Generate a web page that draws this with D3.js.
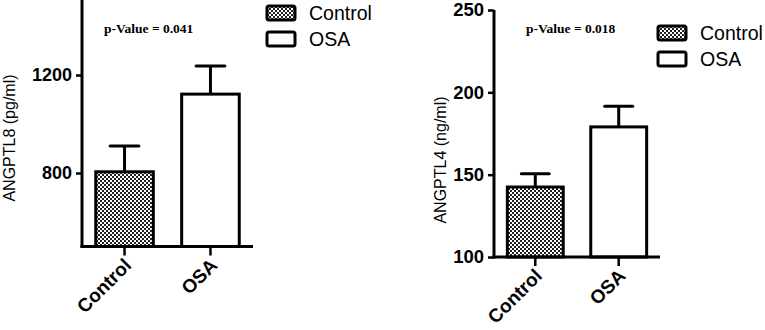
<!DOCTYPE html>
<html>
<head>
<meta charset="utf-8">
<script src="https://cdn.jsdelivr.net/npm/d3@7"></script>
<style>
  body { margin: 0; background: #fff; }
  svg { display: block; }
</style>
</head>
<body>
<div id="graphic"></div>
<script>
// groups shared by both panels
const groups = ['Control', 'OSA'];

// ANGPTL8 panel (pg/ml)
const angptl8Means = [805, 1122];
const angptl8Errors = [105, 115];
const angptl8Domain = [500, 1500];
const angptl8Ticks = [800, 1200];
const angptl8Label = 'ANGPTL8 (pg/ml)';
const angptl8P = 'p-Value = 0.041';

// ANGPTL4 panel (ng/ml)
const angptl4Means = [142.5, 179];
const angptl4Errors = [8, 12.5];
const angptl4Domain = [100, 250];
const angptl4Ticks = [100, 150, 200, 250];
const angptl4Label = 'ANGPTL4 (ng/ml)';
const angptl4P = 'p-Value = 0.018';

const width = 765, height = 330;
const sans = 'Arial, "Liberation Sans", sans-serif';

const svg = d3.select('#graphic').append('svg')
  .attr('width', width)
  .attr('height', height);

// checker fill for the control bars
const defs = svg.append('defs');
const pat = defs.append('pattern')
  .attr('id', 'checker')
  .attr('patternUnits', 'userSpaceOnUse')
  .attr('width', 4).attr('height', 4);
pat.append('rect').attr('width', 4).attr('height', 4).attr('fill', '#fff');
pat.append('rect').attr('width', 2).attr('height', 2).attr('fill', '#222');
pat.append('rect').attr('x', 2).attr('y', 2).attr('width', 2).attr('height', 2).attr('fill', '#222');

const fills = ['url(#checker)', '#fff'];

function drawPanel(opts) {
  const g = svg.append('g');

  const x = d3.scaleBand()
    .domain(groups)
    .range([opts.x0, opts.x1])
    .paddingInner(0.33)
    .paddingOuter(0.16);

  const y = d3.scaleLinear()
    .domain(opts.domain)
    .range([opts.yBottom, opts.yTop]);

  // bars
  g.selectAll('rect.bar')
    .data(groups)
    .join('rect')
    .attr('class', 'bar')
    .attr('x', d => x(d))
    .attr('width', x.bandwidth())
    .attr('y', (d, i) => y(opts.means[i]))
    .attr('height', (d, i) => y(opts.domain[0]) - y(opts.means[i]))
    .attr('fill', (d, i) => fills[i])
    .attr('stroke', '#000')
    .attr('stroke-width', 3);

  // error bars (upper only)
  groups.forEach((d, i) => {
    const cx = x(d) + x.bandwidth() / 2;
    const top = y(opts.means[i] + opts.errors[i]);
    g.append('line')
      .attr('x1', cx).attr('x2', cx)
      .attr('y1', y(opts.means[i])).attr('y2', top)
      .attr('stroke', '#000').attr('stroke-width', 3);
    g.append('line')
      .attr('x1', cx - x.bandwidth() / 4).attr('x2', cx + x.bandwidth() / 4)
      .attr('y1', top).attr('y2', top)
      .attr('stroke', '#000').attr('stroke-width', 3).attr('stroke-linecap', 'round');
  });

  // y axis
  const yAxis = g.append('g')
    .attr('transform', `translate(${opts.x0},0)`)
    .call(d3.axisLeft(y).tickValues(opts.ticks).tickFormat(d3.format('d')).tickSize(6).tickPadding(4));
  yAxis.select('.domain').attr('d', `M0,${opts.yBottom + 1.5}V${opts.axisTop}`)
    .attr('stroke', '#000').attr('stroke-width', 3);
  yAxis.selectAll('.tick line').attr('stroke-width', 2.5);
  yAxis.selectAll('.tick text')
    .style('font-family', sans)
    .style('font-weight', 'bold')
    .style('font-size', opts.tickSize + 'px')
    .attr('fill', '#000');

  // x axis
  const xAxis = g.append('g')
    .attr('transform', `translate(0,${opts.yBottom})`)
    .call(d3.axisBottom(x).tickSize(9).tickFormat(''));
  xAxis.select('.domain').attr('d', `M${opts.x0 - 1.5},0H${opts.x1}`)
    .attr('stroke', '#000').attr('stroke-width', 3);
  xAxis.selectAll('.tick line').attr('stroke-width', 2.5);

  // rotated category labels
  g.selectAll('text.x-label')
    .data(groups)
    .join('text')
    .attr('class', 'x-label')
    .attr('text-anchor', 'end')
    .attr('transform', d => `translate(${x(d) + x.bandwidth() / 2 + 8},${opts.yBottom + 20}) rotate(-45)`)
    .style('font-family', sans)
    .style('font-weight', 'bold')
    .style('font-size', '19px')
    .text(d => d);

  // y title
  g.append('text')
    .attr('text-anchor', 'middle')
    .attr('transform', `translate(${opts.titleX},${opts.titleY}) rotate(-90)`)
    .style('font-family', sans)
    .style('font-size', '16px')
    .text(opts.label);

  // p-value
  g.append('text')
    .attr('x', opts.pX)
    .attr('y', 33)
    .style('font-family', '"Liberation Serif", "Times New Roman", serif')
    .style('font-weight', 'bold')
    .style('font-size', '13.5px')
    .text(opts.p);

  // legend
  const leg = g.append('g').attr('transform', `translate(${opts.legX},${opts.legY})`);
  groups.forEach((d, i) => {
    leg.append('rect')
      .attr('x', 0).attr('y', i * 26)
      .attr('width', 28).attr('height', 14)
      .attr('rx', 2)
      .attr('fill', fills[i])
      .attr('stroke', '#000').attr('stroke-width', 3);
    leg.append('text')
      .attr('x', 42).attr('y', i * 26 + 14)
      .style('font-family', sans)
      .style('font-size', '19.5px')
      .text(d);
  });
}

drawPanel({
  means: angptl8Means, errors: angptl8Errors, domain: angptl8Domain, ticks: angptl8Ticks,
  label: angptl8Label, p: angptl8P, tickSize: 18,
  x0: 82, x1: 253, yBottom: 246.5, yTop: 1.5, axisTop: 0,
  titleX: 15, titleY: 138, pX: 104, legX: 267, legY: 6
});

drawPanel({
  means: angptl4Means, errors: angptl4Errors, domain: angptl4Domain, ticks: angptl4Ticks,
  label: angptl4Label, p: angptl4P, tickSize: 18.5,
  x0: 494, x1: 660, yBottom: 257, yTop: 10, axisTop: 10,
  titleX: 446, titleY: 160, pX: 526, legX: 658, legY: 26
});
</script>
</body>
</html>
